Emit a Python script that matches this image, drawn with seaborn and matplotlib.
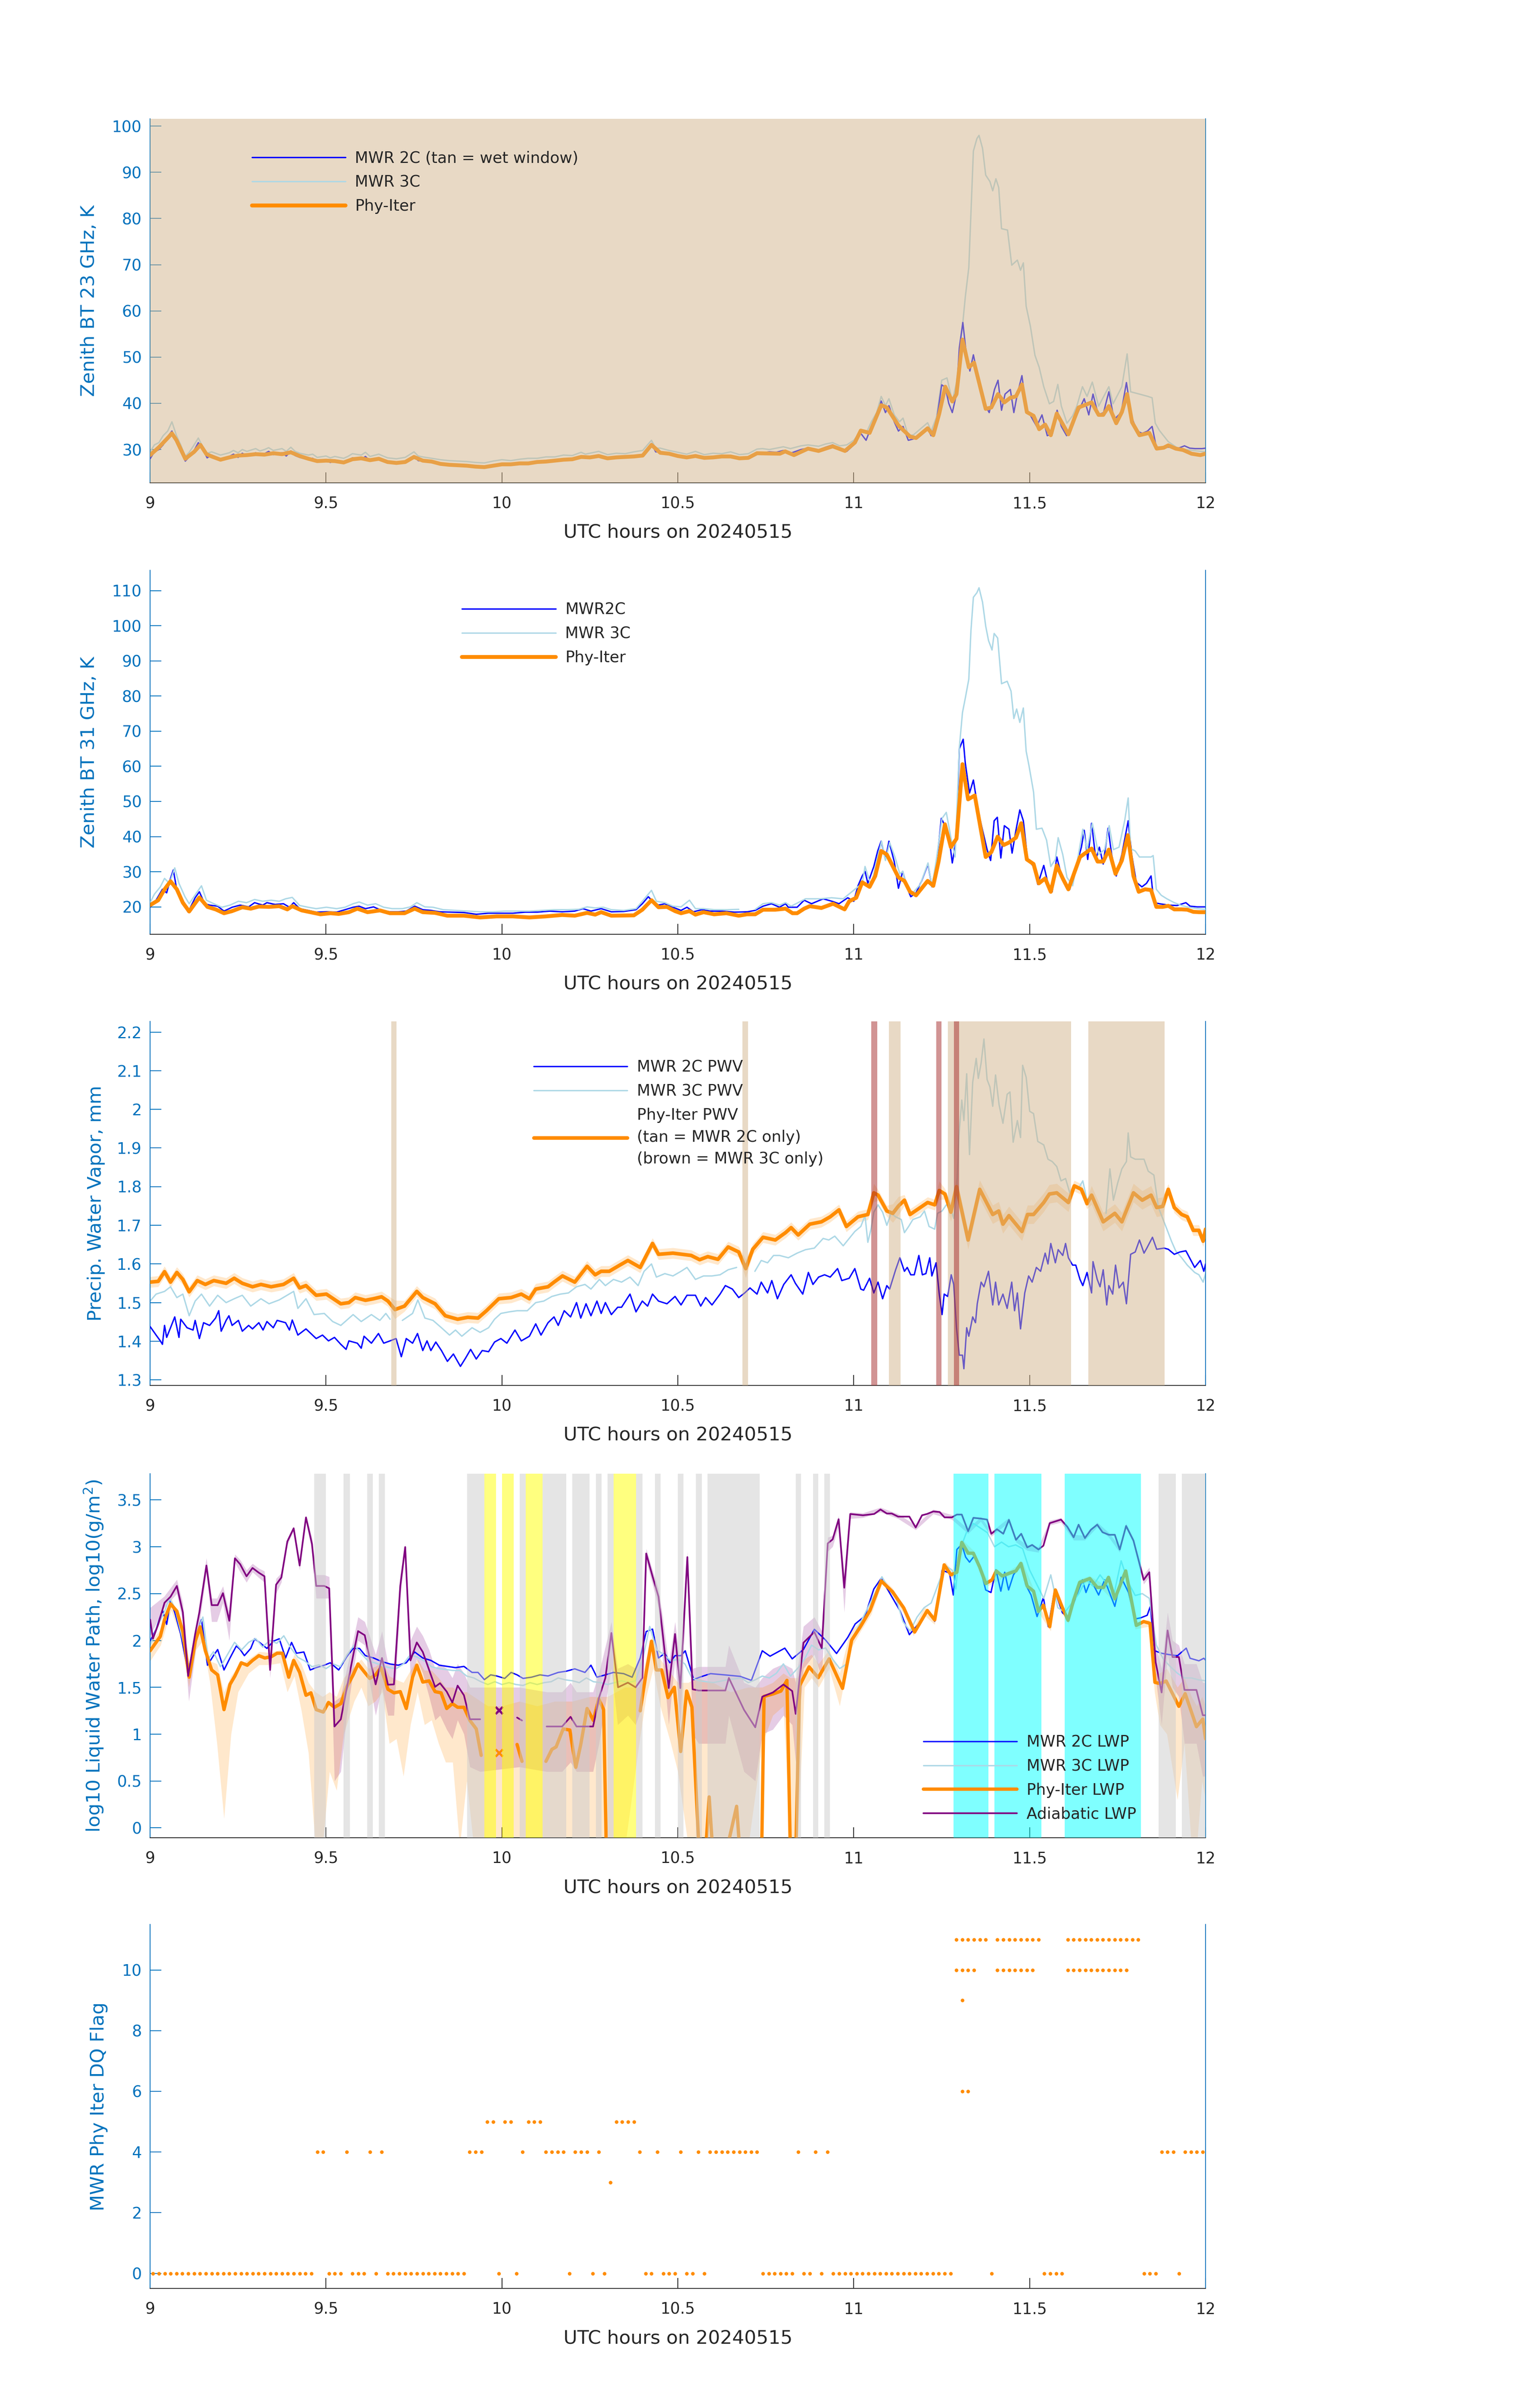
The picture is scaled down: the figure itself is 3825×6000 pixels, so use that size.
import numpy as np
import pandas as pd
import matplotlib
matplotlib.use("Agg")
import matplotlib.pyplot as plt
from matplotlib.lines import Line2D
from matplotlib.ticker import FuncFormatter
import seaborn as sns

nan = np.nan

# ---------------- panel 1: 23 GHz zenith BT (hour, K) ----------------
bt23_phy = [(9.0, 28.8), (9.025, 30.5), (9.05, 32.5), (9.062, 33.5), (9.075, 32), (9.1, 28), (9.125, 29.5),
            (9.143, 31), (9.16, 29), (9.175, 28.5), (9.2, 27.8), (9.225, 28.3), (9.25, 28.7), (9.275, 28.8),
            (9.3, 29), (9.325, 28.9), (9.35, 29.2), (9.375, 29), (9.4, 29.4), (9.425, 28.6), (9.45, 28),
            (9.475, 27.5), (9.5, 27.6), (9.525, 27.5), (9.55, 27.2), (9.575, 27.9), (9.6, 28.1), (9.625, 27.7),
            (9.65, 28), (9.675, 27.3), (9.7, 27.1), (9.725, 27.3), (9.75, 28.4), (9.775, 27.6), (9.8, 27.4),
            (9.825, 26.9), (9.85, 26.7), (9.875, 26.6), (9.9, 26.5), (9.925, 26.3), (9.95, 26.2), (9.975, 26.5),
            (10.0, 26.8), (10.025, 26.8), (10.05, 27), (10.075, 27), (10.1, 27.3), (10.125, 27.4), (10.15, 27.6),
            (10.175, 27.8), (10.2, 27.9), (10.225, 28.4), (10.25, 28.3), (10.275, 28.6), (10.3, 28.1),
            (10.325, 28.3), (10.35, 28.4), (10.375, 28.5), (10.4, 28.7), (10.425, 31), (10.45, 29.3),
            (10.475, 29.1), (10.5, 28.6), (10.525, 28.3), (10.55, 28.6), (10.575, 28.2), (10.6, 28.3),
            (10.625, 28.5), (10.65, 28.5), (10.675, 28.1), (10.7, 28.2), (10.725, 29.2), (10.79, 29.1),
            (10.805, 29.6), (10.83, 28.8), (10.87, 30.2), (10.9, 29.7), (10.94, 30.7), (10.975, 29.7),
            (11.003, 31.5), (11.02, 34.1), (11.045, 33.6), (11.078, 39.6), (11.094, 39.1), (11.127, 35.2),
            (11.16, 32.8), (11.177, 32.5), (11.21, 34.6), (11.226, 33.1), (11.243, 37.8), (11.26, 43.6),
            (11.28, 40.4), (11.292, 42), (11.309, 53.8), (11.327, 47.8), (11.342, 48.8), (11.375, 38.8),
            (11.391, 39.1), (11.41, 42), (11.428, 40.2), (11.445, 41.2), (11.461, 41.5), (11.478, 44.1),
            (11.492, 38.1), (11.511, 37.3), (11.527, 34.4), (11.544, 35.4), (11.56, 33.1), (11.577, 37.8),
            (11.61, 33.3), (11.639, 39.1), (11.676, 40.2), (11.696, 37.5), (11.709, 37.5), (11.725, 39.4),
            (11.746, 35.7), (11.762, 38.1), (11.777, 42), (11.791, 35.9), (11.812, 33.1), (11.84, 33.6),
            (11.861, 30.2), (11.881, 30.4), (11.894, 30.9), (11.915, 30.2), (11.936, 29.9), (11.96, 29.1),
            (11.985, 28.8), (12.0, 29.1)]

bt23_2c = [(9.0, 28), (9.012, 29.5), (9.025, 30), (9.037, 31), (9.05, 32.8), (9.062, 34), (9.075, 31.5),
           (9.087, 29.5), (9.1, 27.5), (9.112, 28.5), (9.125, 29.8), (9.137, 31.5), (9.15, 30), (9.162, 28.2),
           (9.175, 28.8), (9.2, 28), (9.225, 28.5), (9.237, 29), (9.25, 28.3), (9.262, 29.2), (9.275, 28.6),
           (9.3, 29.3), (9.312, 28.7), (9.325, 29.1), (9.337, 29.6), (9.35, 28.9), (9.375, 29.3), (9.387, 28.6),
           (9.4, 29.7), (9.412, 28.7), (9.425, 28.3), (9.45, 27.8), (9.462, 28.1), (9.475, 27.3), (9.5, 27.7),
           (9.512, 27.2), (9.525, 27.6), (9.55, 27.1), (9.562, 27.5), (9.575, 28.2), (9.6, 27.8), (9.612, 28.5),
           (9.625, 27.5), (9.65, 28.2), (9.662, 27.6), (9.675, 27.2), (9.7, 27), (9.725, 27.4), (9.75, 28.6),
           (9.762, 27.6), (9.775, 27.5), (9.8, 27.2), (9.825, 26.8), (9.85, 26.6), (9.875, 26.5), (9.9, 26.4),
           (9.925, 26.2), (9.95, 26.1), (9.975, 26.6), (10.0, 26.9), (10.025, 26.7), (10.05, 27), (10.075, 27.2),
           (10.1, 27.2), (10.125, 27.5), (10.15, 27.5), (10.175, 27.9), (10.2, 27.8), (10.225, 28.6),
           (10.237, 28.1), (10.25, 28.4), (10.275, 28.8), (10.3, 28), (10.325, 28.4), (10.35, 28.3),
           (10.375, 28.7), (10.4, 28.9), (10.425, 31.3), (10.437, 29.5), (10.45, 29.5), (10.475, 29),
           (10.5, 28.5), (10.525, 28.2), (10.55, 28.8), (10.575, 28), (10.6, 28.4), (10.625, 28.3),
           (10.65, 28.7), (10.675, 28), (10.7, 28.3), (10.725, 29.3), (10.74, 29.3), (10.76, 29.5),
           (10.78, 29.4), (10.8, 29.8), (10.82, 29.2), (10.85, 30), (10.87, 30.3), (10.9, 29.9), (10.92, 30.5),
           (10.94, 31), (10.96, 30.2), (10.98, 29.6), (11.0, 31), (11.02, 33.5), (11.035, 32), (11.05, 35),
           (11.065, 37), (11.078, 40.5), (11.09, 38), (11.1, 39.5), (11.115, 36), (11.127, 34), (11.14, 35),
           (11.155, 32), (11.17, 32.3), (11.19, 33.5), (11.21, 34.5), (11.22, 33), (11.235, 36), (11.25, 44),
           (11.26, 43.5), (11.27, 40), (11.28, 38), (11.292, 42), (11.3, 52), (11.31, 57.5), (11.318, 52),
           (11.33, 47), (11.34, 50.5), (11.355, 45), (11.37, 40), (11.385, 38), (11.4, 43), (11.41, 45),
           (11.42, 38.5), (11.43, 42), (11.445, 43), (11.455, 38), (11.465, 42), (11.478, 46), (11.49, 39),
           (11.505, 37), (11.52, 35), (11.535, 37.5), (11.55, 33), (11.565, 33.5), (11.578, 38.5), (11.59, 35),
           (11.605, 33), (11.62, 35), (11.64, 38.5), (11.655, 41), (11.668, 37.5), (11.68, 42), (11.695, 37.5),
           (11.71, 38), (11.725, 42.5), (11.74, 36.5), (11.76, 38), (11.775, 44.5), (11.79, 37), (11.805, 34),
           (11.82, 33.5), (11.835, 34), (11.848, 35), (11.86, 30.5), (11.88, 30.5), (11.9, 30.5), (11.92, 30.2),
           (11.94, 30.8), (11.955, 30.3), (11.97, 30.2), (11.99, 30.2), (12.0, 30.3)]

bt23_3c = [(9.0, 29.5), (9.012, 31), (9.025, 31.5), (9.037, 33), (9.05, 34), (9.062, 36), (9.075, 33),
           (9.087, 31), (9.1, 28.5), (9.112, 29.5), (9.125, 31), (9.137, 32.5), (9.15, 30.5), (9.162, 29.2),
           (9.175, 29.5), (9.2, 28.8), (9.225, 29.3), (9.237, 29.8), (9.25, 29.3), (9.262, 30), (9.275, 29.6),
           (9.3, 30.2), (9.312, 29.7), (9.325, 30), (9.337, 30.4), (9.35, 29.8), (9.375, 30.2), (9.387, 29.6),
           (9.4, 30.5), (9.412, 29.6), (9.425, 29.2), (9.45, 28.8), (9.462, 29), (9.475, 28.3), (9.5, 28.6),
           (9.512, 28.2), (9.525, 28.5), (9.55, 28.1), (9.562, 28.5), (9.575, 29.1), (9.6, 28.8), (9.612, 29.4),
           (9.625, 28.5), (9.65, 29), (9.662, 28.6), (9.675, 28.2), (9.7, 28), (9.725, 28.3), (9.75, 29.5),
           (9.762, 28.6), (9.775, 28.4), (9.8, 28.1), (9.825, 27.8), (9.85, 27.6), (9.875, 27.5), (9.9, 27.4),
           (9.925, 27.2), (9.95, 27.1), (9.975, 27.5), (10.0, 27.8), (10.025, 27.6), (10.05, 27.9),
           (10.075, 28.1), (10.1, 28.1), (10.125, 28.4), (10.15, 28.4), (10.175, 28.8), (10.2, 28.7),
           (10.225, 29.4), (10.237, 29), (10.25, 29.2), (10.275, 29.6), (10.3, 28.9), (10.325, 29.2),
           (10.35, 29.1), (10.375, 29.5), (10.4, 29.8), (10.425, 32), (10.437, 30.3), (10.45, 30.3),
           (10.475, 29.8), (10.5, 29.4), (10.525, 29), (10.55, 29.6), (10.575, 28.9), (10.6, 29.2),
           (10.625, 29.1), (10.65, 29.5), (10.675, 28.9), (10.7, 29.1), (10.725, 30.1), (10.74, 30.2),
           (10.76, 30), (10.78, 30.3), (10.8, 30.6), (10.82, 30.2), (10.85, 30.8), (10.87, 31), (10.9, 30.7),
           (10.92, 31.2), (10.94, 31.5), (10.96, 30.8), (10.98, 31), (11.0, 32), (11.02, 34), (11.035, 33.5),
           (11.05, 36), (11.065, 38), (11.078, 41.5), (11.09, 39.5), (11.1, 41), (11.115, 37.5), (11.13, 36),
           (11.14, 36.8), (11.155, 33), (11.17, 33.2), (11.19, 34.5), (11.21, 35.8), (11.22, 34), (11.235, 37),
           (11.25, 45), (11.265, 45.5), (11.28, 40.5), (11.292, 44.5), (11.309, 56.7), (11.317, 63),
           (11.327, 69.4), (11.333, 81), (11.34, 94.6), (11.35, 97.3), (11.356, 98), (11.366, 95.2),
           (11.375, 89.4), (11.387, 88), (11.395, 86), (11.404, 88.6), (11.412, 86.7), (11.42, 77.8),
           (11.437, 77.5), (11.449, 69.9), (11.465, 71), (11.474, 68.8), (11.482, 70.4), (11.49, 61),
           (11.502, 56.7), (11.515, 50.4), (11.527, 47.8), (11.54, 43.6), (11.556, 39.9), (11.568, 40.4),
           (11.58, 44.1), (11.59, 39.4), (11.606, 35.7), (11.622, 37.3), (11.634, 39.4), (11.65, 43.6),
           (11.663, 41.5), (11.678, 44.6), (11.696, 39.4), (11.725, 43.6), (11.737, 39.9), (11.762, 43.6),
           (11.777, 50.7), (11.787, 42.5), (11.812, 42), (11.836, 41.5), (11.848, 41.2), (11.857, 35.7),
           (11.869, 34.1), (11.894, 31.7), (11.919, 30.4), (11.952, 29.9), (12.0, 29.5)]

wet_window = [(9.0, 12.0)]

# ---------------- panel 2: 31 GHz zenith BT (hour, K) ----------------
bt31_phy = [(9.0, 20.5), (9.023, 21.9), (9.041, 25), (9.058, 27.3), (9.076, 25), (9.093, 21.2), (9.111, 18.7),
            (9.14, 22.7), (9.163, 20), (9.186, 19.3), (9.21, 18.2), (9.233, 18.8), (9.262, 19.9), (9.286, 19.5),
            (9.309, 20.1), (9.338, 20), (9.367, 20.2), (9.39, 19.3), (9.404, 20.2), (9.431, 19), (9.46, 18.4),
            (9.484, 17.9), (9.513, 18.2), (9.536, 18), (9.565, 18.5), (9.589, 19.5), (9.618, 18.5), (9.653, 19),
            (9.682, 18.2), (9.723, 18.2), (9.752, 19.5), (9.775, 18.5), (9.81, 18.3), (9.845, 17.5),
            (9.892, 17.5), (9.938, 17), (9.985, 17.3), (10.031, 17.3), (10.078, 17), (10.125, 17.3),
            (10.171, 17.7), (10.207, 17.5), (10.242, 18.3), (10.265, 17.8), (10.282, 18.5), (10.311, 17.5),
            (10.375, 17.6), (10.399, 19.2), (10.425, 21.9), (10.445, 19.9), (10.469, 20), (10.492, 18.8),
            (10.509, 18.2), (10.533, 18.8), (10.55, 17.8), (10.573, 18.5), (10.603, 17.9), (10.638, 18.2),
            (10.673, 17.5), (10.697, 17.9), (10.72, 17.9), (10.742, 19.2), (10.777, 19.2), (10.806, 19.5),
            (10.826, 18.2), (10.839, 18.2), (10.859, 19.5), (10.875, 20.2), (10.908, 19.7), (10.941, 20.9),
            (10.974, 19.3), (10.987, 21.6), (11.007, 22.6), (11.024, 27), (11.045, 25.7), (11.061, 28.8),
            (11.078, 35.9), (11.094, 34.9), (11.127, 28.4), (11.144, 27.4), (11.16, 24.3), (11.177, 23.3),
            (11.21, 27.4), (11.226, 26), (11.241, 32.9), (11.259, 43.5), (11.276, 37), (11.292, 39.4),
            (11.309, 60.6), (11.325, 50.6), (11.344, 51.7), (11.375, 34.2), (11.391, 35.6), (11.409, 40),
            (11.426, 37.6), (11.441, 38.3), (11.461, 39.7), (11.476, 43.8), (11.492, 33.5), (11.511, 32.2),
            (11.526, 26.7), (11.544, 28.1), (11.56, 24.3), (11.577, 31.8), (11.594, 28.1), (11.61, 25),
            (11.643, 34.2), (11.676, 36.6), (11.693, 32.9), (11.709, 32.9), (11.725, 36.3), (11.744, 29.4),
            (11.762, 33.2), (11.779, 40.4), (11.795, 28.8), (11.81, 24.3), (11.828, 25), (11.845, 24.8),
            (11.86, 20), (11.878, 20), (11.894, 20.3), (11.911, 19.3), (11.932, 19.3), (11.948, 19.2),
            (11.965, 18.6), (11.981, 18.5), (12.0, 18.5)]

bt31_2c = [(9.0, 19.9), (9.017, 21.9), (9.035, 25), (9.047, 24), (9.058, 28.1), (9.066, 30.5), (9.076, 24.7),
           (9.093, 21.2), (9.108, 18.5), (9.128, 22.6), (9.14, 24.3), (9.155, 20.9), (9.169, 20.5),
           (9.192, 20.2), (9.21, 18.8), (9.233, 19.9), (9.256, 20.5), (9.28, 20), (9.297, 21.2), (9.32, 20.5),
           (9.332, 21.2), (9.355, 20.7), (9.379, 20.9), (9.396, 19.9), (9.408, 21.2), (9.425, 19.5),
           (9.449, 19), (9.472, 18.5), (9.501, 18.6), (9.53, 18.5), (9.554, 19.2), (9.577, 19.9),
           (9.594, 20.2), (9.612, 19.5), (9.635, 20), (9.658, 19), (9.682, 18.6), (9.705, 18.6), (9.728, 18.8),
           (9.752, 20.2), (9.775, 19.2), (9.798, 19), (9.822, 18.6), (9.857, 18.5), (9.892, 18.4),
           (9.927, 17.9), (9.962, 18.2), (9.997, 18.2), (10.031, 18.2), (10.066, 18.5), (10.101, 18.5),
           (10.136, 18.8), (10.171, 18.6), (10.207, 18.8), (10.23, 19.5), (10.253, 18.8), (10.282, 19.5),
           (10.311, 18.6), (10.346, 18.7), (10.381, 19.2), (10.399, 20.9), (10.416, 22.9), (10.428, 21.6),
           (10.445, 20.5), (10.463, 20.9), (10.486, 19.9), (10.509, 19), (10.526, 19.9), (10.544, 18.6),
           (10.568, 19.2), (10.591, 18.8), (10.626, 18.8), (10.661, 18.5), (10.697, 18.6), (10.72, 19),
           (10.742, 20.2), (10.766, 20.9), (10.789, 19.9), (10.806, 20.9), (10.814, 19.9), (10.839, 19.9),
           (10.859, 21.9), (10.88, 20.9), (10.913, 22.3), (10.938, 21.6), (10.958, 20.9), (10.983, 22.6),
           (11.0, 21.6), (11.012, 26), (11.024, 28.8), (11.032, 30.1), (11.04, 26.7), (11.057, 31.5),
           (11.068, 35.9), (11.078, 38.7), (11.09, 33.5), (11.1, 38.7), (11.115, 32.9), (11.127, 25.3),
           (11.139, 30.1), (11.152, 25.3), (11.162, 22.9), (11.177, 24), (11.193, 27.4), (11.211, 32.2),
           (11.222, 25.7), (11.234, 30.8), (11.249, 45.2), (11.259, 43.1), (11.271, 39.7), (11.28, 32.5),
           (11.292, 39.7), (11.3, 65), (11.311, 67.7), (11.317, 60.9), (11.329, 52.4), (11.34, 56.1),
           (11.354, 47.2), (11.366, 41.8), (11.379, 36.3), (11.389, 33.2), (11.399, 44.5), (11.408, 45.5),
           (11.418, 33.9), (11.428, 43.1), (11.441, 42.1), (11.45, 35.3), (11.461, 41.8), (11.472, 47.6),
           (11.482, 44.5), (11.494, 33.5), (11.511, 31.5), (11.523, 26.4), (11.54, 31.8), (11.552, 26.7),
           (11.564, 24.3), (11.577, 34.2), (11.589, 29.4), (11.602, 26.7), (11.614, 25), (11.63, 30.8),
           (11.647, 37), (11.655, 41.8), (11.665, 33.5), (11.676, 43.8), (11.688, 33.5), (11.698, 37),
           (11.709, 32.2), (11.723, 42.4), (11.733, 34.9), (11.746, 28.8), (11.762, 34.9), (11.78, 44.5),
           (11.79, 34.9), (11.803, 27), (11.819, 25.7), (11.832, 26.7), (11.845, 28.8), (11.853, 21.2),
           (11.869, 20.9), (11.894, 20.5), (11.919, 20.4), (11.944, 21.2), (11.956, 20.2), (11.977, 20),
           (12.0, 20)]

bt31_3c = [(9.0, 21.2), (9.012, 23.6), (9.029, 25.7), (9.041, 28.1), (9.055, 26.7), (9.07, 31.1), (9.082, 26.7),
           (9.099, 22.9), (9.111, 20.9), (9.132, 24), (9.146, 26), (9.16, 21.9), (9.181, 20.9), (9.204, 19.9),
           (9.227, 20.5), (9.251, 21.6), (9.274, 21.2), (9.297, 22.1), (9.32, 21.6), (9.344, 21.9),
           (9.367, 21.6), (9.385, 22.3), (9.404, 22.7), (9.425, 20.4), (9.449, 19.9), (9.472, 19.5),
           (9.501, 19.9), (9.53, 19.5), (9.554, 19.9), (9.577, 20.9), (9.594, 21.4), (9.618, 20.5),
           (9.641, 20.9), (9.664, 19.9), (9.688, 19.5), (9.717, 19.5), (9.74, 20), (9.758, 21.2), (9.781, 20),
           (9.804, 19.9), (9.833, 19.2), (9.868, 19), (9.903, 18.8), (9.938, 18.6), (9.973, 18.6),
           (10.008, 18.8), (10.043, 18.8), (10.078, 18.8), (10.113, 19), (10.148, 19.2), (10.183, 19.2),
           (10.218, 19.3), (10.242, 20), (10.265, 19.7), (10.288, 19.9), (10.311, 19.2), (10.346, 19),
           (10.381, 19.5), (10.399, 21.6), (10.425, 24.7), (10.439, 21.6), (10.463, 21.2), (10.486, 20.2),
           (10.509, 20), (10.533, 21.9), (10.55, 19.5), (10.573, 19.5), (10.603, 19.2), (10.638, 19.2),
           (10.673, 19.3), (10.69, nan), (10.72, 19.3), (10.742, 20.9), (10.766, 21.2), (10.789, 20.5),
           (10.806, 21.2), (10.822, 20.2), (10.863, 22.3), (10.904, 22.3), (10.937, 22.6), (10.97, 22.3),
           (11.003, 25), (11.024, 26.7), (11.032, 31.5), (11.049, 26), (11.065, 32.9), (11.079, 38.7),
           (11.09, 33.2), (11.102, 38.3), (11.117, 34.2), (11.131, 29.4), (11.139, 30.1), (11.152, 25),
           (11.168, 24), (11.189, 26.4), (11.211, 32.5), (11.222, 25.7), (11.234, 32.9), (11.251, 45.2),
           (11.263, 46.9), (11.276, 39.7), (11.288, 34.2), (11.3, 65.3), (11.309, 75.3), (11.317, 79.4),
           (11.327, 84.8), (11.333, 98.5), (11.34, 108.1), (11.35, 109.4), (11.356, 110.8), (11.366, 106.7),
           (11.375, 99.9), (11.383, 95.8), (11.393, 93.1), (11.399, 97.8), (11.409, 96.5), (11.42, 83.5),
           (11.436, 84.2), (11.447, 81.4), (11.455, 73.6), (11.463, 76.3), (11.472, 72.5), (11.482, 76.6),
           (11.49, 64.3), (11.498, 60.2), (11.511, 52.7), (11.519, 42.1), (11.535, 42.4), (11.548, 39),
           (11.56, 31.5), (11.573, 33.5), (11.581, 39.7), (11.594, 34.9), (11.606, 28.4), (11.622, 26),
           (11.634, 32.2), (11.651, 42.1), (11.663, 36.3), (11.678, 43.8), (11.696, 34.9), (11.713, 36.3),
           (11.726, 43.1), (11.738, 36.3), (11.754, 37), (11.77, 44.5), (11.78, 51), (11.787, 36.6),
           (11.8, 35.9), (11.812, 34.2), (11.828, 34.2), (11.845, 34.2), (11.851, 34.6), (11.86, 25),
           (11.874, 23.3), (11.89, 22.3), (11.911, 21.2), (11.932, 20.4), (11.952, 19.9), (11.977, 19.5),
           (12.0, 19.3)]

# ---------------- panel 3: precipitable water vapour (hour, mm) ----------------
pwv_phy = [(9.0, 1.553), (9.023, 1.555), (9.041, 1.58), (9.058, 1.553), (9.076, 1.578), (9.093, 1.56),
           (9.111, 1.528), (9.134, 1.557), (9.157, 1.547), (9.181, 1.557), (9.216, 1.55), (9.239, 1.563),
           (9.262, 1.55), (9.291, 1.541), (9.315, 1.547), (9.344, 1.541), (9.379, 1.547), (9.408, 1.563),
           (9.425, 1.538), (9.443, 1.544), (9.472, 1.519), (9.501, 1.522), (9.542, 1.497), (9.565, 1.5),
           (9.583, 1.513), (9.612, 1.506), (9.635, 1.51), (9.658, 1.515), (9.676, 1.504), (9.696, 1.482),
           (9.723, 1.491), (9.758, 1.529), (9.775, 1.513), (9.81, 1.497), (9.839, 1.466), (9.874, 1.457),
           (9.903, 1.462), (9.932, 1.46), (9.956, 1.479), (9.991, 1.51), (10.026, 1.513), (10.055, 1.522),
           (10.078, 1.51), (10.096, 1.535), (10.131, 1.541), (10.148, 1.553), (10.172, 1.569), (10.207, 1.553),
           (10.242, 1.594), (10.265, 1.572), (10.282, 1.581), (10.305, 1.581), (10.335, 1.597), (10.358, 1.609),
           (10.393, 1.591), (10.428, 1.653), (10.445, 1.625), (10.486, 1.628), (10.538, 1.622), (10.562, 1.611),
           (10.585, 1.619), (10.614, 1.612), (10.643, 1.644), (10.673, 1.631), (10.693, 1.588), (10.713, 1.638),
           (10.742, 1.669), (10.777, 1.662), (10.806, 1.681), (10.822, 1.694), (10.842, 1.675), (10.875, 1.703),
           (10.908, 1.709), (10.933, 1.722), (10.958, 1.74), (10.979, 1.697), (11.012, 1.722), (11.04, 1.728),
           (11.057, 1.784), (11.069, 1.778), (11.094, 1.737), (11.111, 1.731), (11.127, 1.75), (11.144, 1.765),
           (11.16, 1.728), (11.189, 1.746), (11.21, 1.759), (11.23, 1.753), (11.243, 1.79), (11.259, 1.781),
           (11.276, 1.734), (11.292, 1.8), (11.325, 1.662), (11.358, 1.793), (11.395, 1.728), (11.412, 1.737),
           (11.424, 1.703), (11.441, 1.725), (11.478, 1.684), (11.494, 1.728), (11.511, 1.728), (11.54, 1.759),
           (11.556, 1.781), (11.577, 1.784), (11.61, 1.759), (11.627, 1.802), (11.647, 1.793), (11.663, 1.756),
           (11.676, 1.778), (11.709, 1.709), (11.742, 1.731), (11.762, 1.709), (11.795, 1.784), (11.82, 1.765),
           (11.845, 1.778), (11.861, 1.746), (11.878, 1.749), (11.894, 1.793), (11.911, 1.746), (11.932, 1.728),
           (11.948, 1.722), (11.965, 1.687), (11.981, 1.687), (11.993, 1.659), (12.0, 1.69)]
pwv_unc_quiet = 0.014
pwv_unc_window = 0.024

pwv_2c = [(9.0, 1.438), (9.017, 1.416), (9.029, 1.401), (9.035, 1.392), (9.041, 1.441), (9.047, 1.41),
          (9.058, 1.435), (9.07, 1.463), (9.082, 1.41), (9.087, 1.457), (9.105, 1.435), (9.122, 1.429),
          (9.128, 1.454), (9.14, 1.407), (9.152, 1.448), (9.169, 1.441), (9.186, 1.46), (9.195, 1.479),
          (9.202, 1.426), (9.216, 1.454), (9.224, 1.466), (9.233, 1.441), (9.251, 1.454), (9.262, 1.426),
          (9.28, 1.441), (9.291, 1.432), (9.309, 1.448), (9.321, 1.429), (9.332, 1.451), (9.35, 1.435),
          (9.361, 1.454), (9.385, 1.448), (9.396, 1.429), (9.404, 1.455), (9.42, 1.416), (9.443, 1.432),
          (9.472, 1.407), (9.49, 1.416), (9.507, 1.401), (9.524, 1.41), (9.542, 1.392), (9.557, 1.379),
          (9.565, 1.401), (9.589, 1.395), (9.6, 1.382), (9.608, 1.413), (9.629, 1.395), (9.649, 1.42),
          (9.664, 1.395), (9.682, 1.401), (9.699, 1.407), (9.714, 1.36), (9.728, 1.407), (9.746, 1.395),
          (9.76, 1.42), (9.775, 1.376), (9.787, 1.401), (9.798, 1.376), (9.812, 1.398), (9.828, 1.376),
          (9.845, 1.348), (9.862, 1.367), (9.882, 1.335), (9.897, 1.357), (9.911, 1.379), (9.927, 1.354),
          (9.944, 1.376), (9.962, 1.373), (9.979, 1.398), (9.997, 1.407), (10.014, 1.395), (10.037, 1.429),
          (10.055, 1.401), (10.078, 1.413), (10.096, 1.445), (10.111, 1.416), (10.131, 1.448), (10.148, 1.463),
          (10.16, 1.441), (10.177, 1.479), (10.195, 1.463), (10.212, 1.5), (10.224, 1.46), (10.239, 1.497),
          (10.253, 1.466), (10.27, 1.504), (10.282, 1.472), (10.294, 1.5), (10.311, 1.469), (10.329, 1.488),
          (10.34, 1.488), (10.364, 1.522), (10.381, 1.476), (10.399, 1.504), (10.414, 1.491), (10.428, 1.522),
          (10.445, 1.504), (10.469, 1.497), (10.492, 1.516), (10.509, 1.494), (10.526, 1.519), (10.55, 1.519),
          (10.565, 1.491), (10.579, 1.513), (10.597, 1.494), (10.62, 1.522), (10.635, 1.544), (10.655, 1.535),
          (10.673, 1.513), (10.69, 1.525), (10.705, 1.538), (10.725, 1.522), (10.737, 1.553), (10.755, 1.525),
          (10.767, 1.557), (10.783, 1.51), (10.801, 1.547), (10.822, 1.572), (10.834, 1.55), (10.855, 1.522),
          (10.871, 1.578), (10.884, 1.547), (10.9, 1.566), (10.917, 1.572), (10.933, 1.566), (10.954, 1.588),
          (10.966, 1.557), (10.987, 1.563), (11.003, 1.588), (11.02, 1.535), (11.028, 1.532), (11.045, 1.563),
          (11.057, 1.525), (11.069, 1.553), (11.082, 1.51), (11.094, 1.544), (11.102, 1.535), (11.119, 1.585),
          (11.131, 1.616), (11.144, 1.581), (11.152, 1.591), (11.162, 1.572), (11.172, 1.572), (11.185, 1.622),
          (11.195, 1.572), (11.205, 1.575), (11.216, 1.616), (11.222, 1.569), (11.234, 1.603), (11.243, 1.522),
          (11.251, 1.469), (11.257, 1.522), (11.267, 1.516), (11.277, 1.572), (11.284, 1.547), (11.292, 1.435),
          (11.3, 1.364), (11.309, 1.364), (11.313, 1.329), (11.321, 1.435), (11.327, 1.413), (11.338, 1.463),
          (11.346, 1.448), (11.351, 1.497), (11.362, 1.553), (11.37, 1.541), (11.383, 1.581), (11.395, 1.494),
          (11.403, 1.553), (11.412, 1.494), (11.424, 1.522), (11.436, 1.485), (11.449, 1.553), (11.457, 1.479),
          (11.465, 1.525), (11.474, 1.432), (11.486, 1.525), (11.497, 1.569), (11.507, 1.553), (11.519, 1.591),
          (11.531, 1.581), (11.544, 1.628), (11.552, 1.6), (11.56, 1.653), (11.573, 1.603), (11.581, 1.637),
          (11.594, 1.622), (11.602, 1.653), (11.61, 1.616), (11.622, 1.597), (11.631, 1.597), (11.643, 1.56),
          (11.651, 1.544), (11.663, 1.578), (11.676, 1.525), (11.68, 1.606), (11.692, 1.56), (11.7, 1.541),
          (11.709, 1.585), (11.719, 1.494), (11.725, 1.544), (11.736, 1.522), (11.744, 1.597), (11.754, 1.538),
          (11.766, 1.553), (11.775, 1.497), (11.787, 1.625), (11.8, 1.631), (11.812, 1.662), (11.825, 1.628),
          (11.833, 1.641), (11.849, 1.669), (11.861, 1.638), (11.882, 1.641), (11.894, 1.638), (11.911, 1.625),
          (11.927, 1.631), (11.944, 1.634), (11.969, 1.591), (11.985, 1.609), (11.995, 1.581), (12.0, 1.6)]

pwv_3c = [(9.0, 1.504), (9.017, 1.522), (9.041, 1.529), (9.058, 1.541), (9.076, 1.513), (9.093, 1.522),
          (9.111, 1.466), (9.128, 1.504), (9.146, 1.522), (9.169, 1.491), (9.192, 1.519), (9.216, 1.5),
          (9.239, 1.51), (9.262, 1.519), (9.286, 1.491), (9.315, 1.51), (9.338, 1.497), (9.367, 1.507),
          (9.408, 1.529), (9.42, 1.485), (9.443, 1.51), (9.466, 1.469), (9.495, 1.472), (9.519, 1.451),
          (9.542, 1.441), (9.577, 1.469), (9.6, 1.451), (9.629, 1.469), (9.653, 1.454), (9.67, 1.472),
          (9.682, 1.457), (9.695, nan), (9.717, 1.454), (9.746, 1.472), (9.761, 1.507), (9.781, 1.46),
          (9.804, 1.454), (9.828, 1.435), (9.851, 1.416), (9.868, 1.429), (9.886, 1.413), (9.915, 1.435),
          (9.938, 1.423), (9.962, 1.435), (9.979, 1.457), (9.997, 1.472), (10.02, 1.476), (10.043, 1.479),
          (10.072, 1.479), (10.096, 1.5), (10.119, 1.504), (10.142, 1.516), (10.166, 1.522), (10.189, 1.525),
          (10.212, 1.541), (10.236, 1.547), (10.253, 1.535), (10.277, 1.56), (10.294, 1.544), (10.317, 1.56),
          (10.34, 1.553), (10.364, 1.566), (10.387, 1.544), (10.404, 1.581), (10.425, 1.6), (10.439, 1.566),
          (10.463, 1.575), (10.486, 1.569), (10.509, 1.581), (10.526, 1.591), (10.55, 1.56), (10.573, 1.569),
          (10.597, 1.569), (10.62, 1.572), (10.643, 1.585), (10.667, 1.591), (10.69, nan), (10.719, 1.581),
          (10.737, 1.609), (10.755, 1.603), (10.772, 1.622), (10.789, 1.622), (10.814, 1.616), (10.839, 1.628),
          (10.863, 1.637), (10.888, 1.641), (10.913, 1.666), (10.929, 1.662), (10.946, 1.672), (10.97, 1.647),
          (10.987, 1.666), (11.003, 1.684), (11.02, 1.697), (11.032, 1.725), (11.04, 1.656), (11.049, 1.69),
          (11.057, 1.734), (11.069, 1.753), (11.082, 1.734), (11.094, 1.7), (11.106, 1.731), (11.119, 1.722),
          (11.135, 1.715), (11.144, 1.681), (11.156, 1.697), (11.168, 1.715), (11.189, 1.722), (11.201, 1.737),
          (11.214, 1.697), (11.23, 1.69), (11.238, 1.731), (11.251, 1.737), (11.263, 1.753), (11.276, 1.743),
          (11.284, 1.718), (11.292, 1.771), (11.299, 1.933), (11.307, 2.024), (11.313, 1.971), (11.321, 2.092),
          (11.329, 1.883), (11.338, 2.07), (11.348, 2.132), (11.354, 2.08), (11.362, 2.12), (11.37, 2.182),
          (11.379, 2.077), (11.387, 2.058), (11.395, 2.008), (11.403, 2.089), (11.413, 2.012), (11.424, 1.964),
          (11.436, 2.039), (11.444, 2.045), (11.453, 1.915), (11.465, 1.971), (11.474, 1.927), (11.48, 2.114),
          (11.49, 2.083), (11.5, 1.995), (11.511, 1.989), (11.523, 1.917), (11.54, 1.908), (11.552, 1.871),
          (11.564, 1.865), (11.577, 1.852), (11.589, 1.815), (11.602, 1.821), (11.614, 1.784), (11.627, 1.802),
          (11.639, 1.796), (11.651, 1.815), (11.663, 1.765), (11.69, nan), (11.717, 1.731), (11.728, 1.846),
          (11.738, 1.765), (11.75, 1.809), (11.762, 1.846), (11.775, 1.865), (11.78, 1.939), (11.787, 1.877),
          (11.8, 1.871), (11.812, 1.871), (11.825, 1.871), (11.837, 1.84), (11.853, 1.83), (11.866, 1.746),
          (11.878, 1.718), (11.89, 1.69), (11.903, 1.659), (11.915, 1.634), (11.932, 1.616), (11.948, 1.597),
          (11.969, 1.578), (11.981, 1.572), (11.993, 1.553), (12.0, 1.575)]

pwv_tan = [(9.686, 9.70), (10.684, 10.70), (11.10, 11.133), (11.267, 11.618), (11.667, 11.884)]
pwv_brown = [(11.05, 11.067), (11.234, 11.249), (11.285, 11.30)]

# ---------------- panel 4: log10 liquid water path ----------------
lwp_2c = [(9.0, 1.992), (9.017, 2.12), (9.035, 2.326), (9.047, 2.172), (9.058, 2.428), (9.07, 2.3), (9.087, 2.069),
          (9.108, 1.659), (9.128, 2.018), (9.146, 2.223), (9.163, 1.736), (9.18, 1.838), (9.192, 1.903),
          (9.21, 1.685), (9.227, 1.813), (9.245, 1.941), (9.256, 1.903), (9.268, 1.838), (9.286, 1.915),
          (9.297, 2.018), (9.315, 1.967), (9.332, 1.915), (9.35, 1.992), (9.367, 2.018), (9.385, 1.813),
          (9.402, 1.979), (9.416, 1.864), (9.437, 1.877), (9.455, 1.685), (9.472, 1.71), (9.495, 1.736),
          (9.512, 1.762), (9.536, 1.685), (9.559, 1.826), (9.577, 1.915), (9.595, 1.915), (9.612, 1.838),
          (9.635, 1.813), (9.659, 1.774), (9.682, 1.749), (9.705, 1.736), (9.728, 1.762), (9.752, 1.877),
          (9.775, 1.813), (9.798, 1.787), (9.822, 1.736), (9.845, 1.723), (9.868, 1.71), (9.892, 1.723),
          (9.915, 1.659), (9.932, 1.659), (9.95, 1.582), (9.968, 1.633), (9.985, 1.621), (10.008, 1.595),
          (10.026, 1.659), (10.043, 1.633), (10.06, 1.595), (10.084, 1.608), (10.108, 1.633), (10.131, 1.621),
          (10.16, 1.659), (10.183, 1.672), (10.207, 1.697), (10.236, 1.659), (10.253, 1.736), (10.27, 1.608),
          (10.294, 1.633), (10.317, 1.659), (10.346, 1.646), (10.37, 1.608), (10.393, 1.813), (10.41, 2.095),
          (10.428, 2.121), (10.445, 1.813), (10.463, 1.864), (10.477, 1.762), (10.492, 1.838), (10.509, 1.838),
          (10.521, 1.89), (10.545, 1.582), (10.562, 1.608), (10.593, 1.646), (10.635, 1.632), (10.677, 1.617),
          (10.709, 1.574), (10.74, 1.89), (10.762, 1.832), (10.804, 1.918), (10.825, 1.804), (10.857, 1.904),
          (10.888, 2.119), (10.92, 2.004), (10.951, 1.861), (10.983, 2.033), (11.004, 2.176), (11.032, 2.262),
          (11.057, 2.549), (11.078, 2.663), (11.1, 2.52), (11.131, 2.32), (11.158, 2.062), (11.184, 2.176),
          (11.209, 2.32), (11.23, 2.205), (11.251, 2.749), (11.272, 2.721), (11.283, 2.485), (11.293, 2.971),
          (11.307, 3.025), (11.318, 2.89), (11.329, 2.836), (11.343, 2.904), (11.358, 2.796), (11.375, 2.539),
          (11.39, 2.512), (11.404, 2.755), (11.418, 2.526), (11.429, 2.728), (11.44, 2.539), (11.454, 2.701),
          (11.464, 2.755), (11.475, 2.796), (11.489, 2.593), (11.504, 2.485), (11.521, 2.255), (11.539, 2.458),
          (11.553, 2.147), (11.571, 2.539), (11.593, 2.296), (11.61, 2.242), (11.631, 2.458), (11.65, 2.647),
          (11.66, 2.512), (11.674, 2.647), (11.696, 2.485), (11.713, 2.647), (11.742, 2.364), (11.76, 2.674),
          (11.781, 2.512), (11.799, 2.229), (11.816, 2.242), (11.834, 2.269), (11.843, 2.364), (11.855, 1.891),
          (11.874, 1.864), (11.895, 1.85), (11.92, 1.837), (11.945, 1.918), (11.956, 1.81), (11.981, 1.783),
          (11.995, 1.81), (12.0, 1.79)]

lwp_3c = [(9.0, 1.95), (9.02, 2.15), (9.04, 2.3), (9.055, 2.45), (9.07, 2.35), (9.09, 2.05), (9.11, 1.7),
          (9.13, 2.05), (9.15, 2.25), (9.165, 1.8), (9.18, 1.88), (9.2, 1.72), (9.22, 1.85), (9.24, 1.98),
          (9.26, 1.9), (9.28, 1.98), (9.3, 2.02), (9.32, 1.93), (9.34, 2.0), (9.36, 1.97), (9.38, 2.05),
          (9.4, 1.92), (9.42, 1.82), (9.44, 1.78), (9.46, 1.72), (9.48, 1.74), (9.5, 1.7), (9.52, 1.75),
          (9.54, 1.72), (9.56, 1.85), (9.58, 1.95), (9.6, 1.86), (9.62, 1.78), (9.64, 1.76), (9.66, 1.73),
          (9.68, 1.71), (9.7, 1.7), (9.72, 1.75), (9.74, 1.85), (9.76, 1.82), (9.78, 1.78), (9.8, 1.72),
          (9.82, 1.7), (9.84, 1.69), (9.86, 1.68), (9.88, 1.68), (9.9, 1.62), (9.92, 1.6), (9.94, 1.56),
          (9.96, 1.53), (9.98, 1.56), (10.0, 1.53), (10.02, 1.55), (10.04, 1.53), (10.06, 1.52), (10.08, 1.55),
          (10.1, 1.53), (10.12, 1.55), (10.14, 1.56), (10.16, 1.6), (10.18, 1.58), (10.2, 1.57), (10.22, 1.55),
          (10.24, 1.6), (10.26, 1.56), (10.28, 1.55), (10.3, 1.53), (10.32, 1.55), (10.34, 1.57), (10.36, 1.55),
          (10.38, 1.57), (10.4, 1.8), (10.42, 2.15), (10.44, 1.9), (10.46, 1.85), (10.48, 1.78), (10.5, 1.8),
          (10.52, 1.75), (10.54, 1.6), (10.56, 1.57), (10.6, 1.55), (10.64, 1.58), (10.68, 1.6), (10.7, 1.55),
          (10.72, 1.58), (10.74, 1.62), (10.76, 1.6), (10.78, 1.65), (10.8, 1.75), (10.82, 1.62), (10.84, 1.7),
          (10.86, 1.8), (10.88, 1.95), (10.9, 1.9), (10.92, 1.92), (10.94, 1.8), (10.96, 1.7), (10.98, 1.75),
          (11.0, 2.05), (11.02, 2.2), (11.04, 2.35), (11.06, 2.5), (11.08, 2.68), (11.1, 2.55), (11.12, 2.45),
          (11.14, 2.2), (11.16, 2.1), (11.18, 2.25), (11.2, 2.35), (11.22, 2.4), (11.24, 2.6), (11.26, 2.8),
          (11.28, 2.75), (11.29, 2.55), (11.3, 2.95), (11.32, 3.15), (11.34, 3.25), (11.36, 3.2), (11.38, 3.15),
          (11.4, 3.0), (11.42, 3.05), (11.44, 3.0), (11.46, 3.02), (11.48, 2.98), (11.5, 2.75), (11.52, 2.6),
          (11.54, 2.45), (11.56, 2.7), (11.58, 2.35), (11.6, 2.3), (11.62, 2.4), (11.64, 2.5), (11.66, 2.65),
          (11.68, 2.58), (11.7, 2.7), (11.72, 2.6), (11.74, 2.5), (11.76, 2.85), (11.78, 2.62), (11.8, 2.48),
          (11.82, 2.5), (11.84, 2.45), (11.86, 1.95), (11.88, 1.8), (11.9, 1.72), (11.92, 1.65), (11.94, 1.6),
          (11.96, 1.6), (11.98, 1.58), (12.0, 1.57)]

lwp_phy = [(9.0, 1.89), (9.012, 1.954), (9.029, 2.044), (9.041, 2.223), (9.058, 2.39), (9.076, 2.313),
           (9.093, 2.095), (9.111, 1.608), (9.128, 1.992), (9.142, 2.146), (9.157, 1.89), (9.175, 1.685),
           (9.192, 1.633), (9.21, 1.262), (9.227, 1.531), (9.241, 1.621), (9.259, 1.762), (9.276, 1.736),
           (9.291, 1.787), (9.309, 1.838), (9.326, 1.813), (9.344, 1.826), (9.361, 1.864), (9.376, 1.864),
           (9.394, 1.608), (9.408, 1.787), (9.425, 1.659), (9.443, 1.415), (9.457, 1.441), (9.472, 1.262),
           (9.492, 1.236), (9.507, 1.338), (9.524, 1.287), (9.542, 1.326), (9.559, 1.505), (9.577, 1.633),
           (9.591, 1.749), (9.61, 1.659), (9.624, 1.595), (9.641, 1.633), (9.656, 1.71), (9.676, 1.479),
           (9.693, 1.441), (9.711, 1.454), (9.728, 1.274), (9.746, 1.608), (9.758, 1.736), (9.775, 1.556),
           (9.793, 1.569), (9.81, 1.454), (9.827, 1.441), (9.843, 1.274), (9.859, 1.326), (9.874, 1.287),
           (9.892, 1.287), (9.909, 1.146), (9.927, 1.056), (9.941, 0.774), (9.95, nan), (10.043, 0.89),
           (10.057, 0.71), (10.07, nan), (10.125, 0.71), (10.142, 0.838), (10.154, 0.864), (10.174, 1.056),
           (10.193, 1.044), (10.21, 0.646), (10.224, 0.89), (10.242, 1.274), (10.26, 1.146), (10.275, 1.377),
           (10.289, 1.262), (10.297, -0.3), (10.3, nan), (10.393, 1.249), (10.41, 1.659), (10.425, 1.992),
           (10.439, 1.685), (10.454, 1.685), (10.472, 1.39), (10.49, 1.5), (10.508, 0.815), (10.525, 1.46),
           (10.54, 1.288), (10.561, -0.3), (10.578, -0.3), (10.589, 0.33), (10.6, -0.3), (10.635, -0.3),
           (10.667, 0.23), (10.677, -0.3), (10.738, -0.3), (10.745, 1.403), (10.772, 1.431), (10.793, 1.46),
           (10.81, 1.574), (10.82, -0.3), (10.835, -0.3), (10.846, 1.517), (10.873, 1.718), (10.899, 1.603),
           (10.93, 1.804), (10.968, 1.489), (10.994, 2.004), (11.019, 2.148), (11.046, 2.32), (11.078, 2.635),
           (11.11, 2.52), (11.142, 2.348), (11.173, 2.09), (11.209, 2.32), (11.23, 2.219), (11.257, 2.807),
           (11.276, 2.701), (11.293, 2.728), (11.307, 3.047), (11.325, 2.931), (11.34, 2.931), (11.358, 2.782),
           (11.375, 2.607), (11.393, 2.647), (11.405, 2.742), (11.422, 2.688), (11.44, 2.715), (11.461, 2.742),
           (11.475, 2.823), (11.493, 2.58), (11.511, 2.526), (11.525, 2.31), (11.539, 2.377), (11.557, 2.147),
           (11.573, 2.539), (11.593, 2.35), (11.609, 2.215), (11.625, 2.431), (11.642, 2.62), (11.671, 2.661),
           (11.692, 2.566), (11.71, 2.566), (11.724, 2.674), (11.742, 2.445), (11.773, 2.742), (11.803, 2.161),
           (11.824, 2.202), (11.842, 2.183), (11.856, 1.553), (11.87, 1.54), (11.888, 1.567), (11.924, 1.297),
           (11.942, 1.432), (11.974, 1.08), (11.992, 1.161), (12.0, 0.95)]

lwp_phy_band = [(9.0, 1.78, 1.97), (9.03, 1.95, 2.12), (9.06, 2.32, 2.45), (9.09, 2.0, 2.17), (9.11, 1.5, 1.7),
                (9.13, 1.9, 2.07), (9.15, 2.0, 2.2), (9.17, 1.55, 1.78), (9.19, 0.9, 1.75), (9.21, 0.1, 1.45),
                (9.23, 1.0, 1.62), (9.25, 1.45, 1.72), (9.28, 1.65, 1.8), (9.31, 1.74, 1.88), (9.34, 1.74, 1.87),
                (9.37, 1.76, 1.9), (9.39, 1.45, 1.68), (9.41, 1.62, 1.85), (9.43, 1.25, 1.75), (9.45, 0.8, 1.55),
                (9.47, -0.2, 1.45), (9.49, -0.2, 1.4), (9.51, 0.6, 1.45), (9.53, 0.4, 1.4), (9.55, 1.0, 1.6),
                (9.58, 1.35, 1.72), (9.6, 1.5, 1.8), (9.62, 1.3, 1.7), (9.64, 1.35, 1.72), (9.66, 1.45, 1.78),
                (9.68, 0.9, 1.62), (9.7, 0.95, 1.58), (9.72, 0.55, 1.55), (9.74, 1.1, 1.68), (9.76, 1.45, 1.8),
                (9.78, 1.1, 1.68), (9.8, 1.15, 1.68), (9.82, 0.9, 1.6), (9.84, 0.7, 1.5), (9.86, 0.7, 1.5),
                (9.88, -0.2, 1.45), (9.9, 0.5, 1.45), (9.92, -0.2, 1.4), (9.94, -0.2, 1.35), (9.96, -0.2, 1.3),
                (10.0, -0.2, 1.3), (10.05, -0.2, 1.35), (10.1, -0.2, 1.3), (10.15, -0.2, 1.35), (10.2, -0.2, 1.35),
                (10.25, -0.2, 1.4), (10.3, -0.2, 1.4), (10.35, -0.2, 1.5), (10.39, 0.9, 1.5), (10.41, 1.4, 1.8),
                (10.43, 1.7, 2.1), (10.45, 1.3, 1.8), (10.48, 0.9, 1.65), (10.5, 0.6, 1.55), (10.53, -0.2, 1.55),
                (10.55, -0.2, 1.6), (10.6, -0.2, 1.55), (10.65, -0.2, 1.45), (10.7, -0.2, 1.5), (10.74, 0.9, 1.5),
                (10.77, 1.2, 1.55), (10.8, 1.3, 1.65), (10.82, -0.2, 1.6), (10.84, -0.2, 1.6), (10.86, 1.5, 1.8),
                (10.88, 1.6, 1.85), (10.9, 1.5, 1.75), (10.93, 1.7, 1.9), (10.96, 1.3, 1.65), (10.99, 1.9, 2.1),
                (11.02, 2.1, 2.2), (11.05, 2.28, 2.36), (11.08, 2.6, 2.67), (11.11, 2.48, 2.56), (11.14, 2.3, 2.38),
                (11.17, 2.05, 2.13), (11.2, 2.27, 2.36), (11.23, 2.17, 2.26), (11.26, 2.77, 2.84),
                (11.28, 2.67, 2.74), (11.31, 3.02, 3.07), (11.34, 2.9, 2.96), (11.38, 2.58, 2.64),
                (11.4, 2.62, 2.68), (11.44, 2.69, 2.74), (11.48, 2.78, 2.84), (11.51, 2.49, 2.56),
                (11.53, 2.27, 2.34), (11.56, 2.1, 2.18), (11.57, 2.5, 2.57), (11.61, 2.18, 2.25),
                (11.64, 2.59, 2.65), (11.67, 2.63, 2.69), (11.71, 2.53, 2.6), (11.74, 2.41, 2.48),
                (11.77, 2.71, 2.77), (11.8, 2.12, 2.2), (11.84, 2.15, 2.22), (11.855, 1.45, 1.65),
                (11.87, 1.1, 1.65), (11.89, 1.0, 1.7), (11.92, 0.3, 1.5), (11.94, 0.9, 1.6), (11.96, -0.2, 1.4),
                (11.975, -0.2, 1.3), (11.99, 0.5, 1.4), (12.0, 0.3, 1.3)]

lwp_adi = [(9.0, 2.223), (9.008, 2.018), (9.023, 2.172), (9.041, 2.403), (9.058, 2.467), (9.076, 2.582),
           (9.093, 2.3), (9.108, 1.621), (9.128, 2.069), (9.14, 2.3), (9.16, 2.8), (9.175, 2.377), (9.192, 2.377),
           (9.207, 2.505), (9.225, 2.21), (9.241, 2.877), (9.256, 2.813), (9.274, 2.685), (9.291, 2.774),
           (9.309, 2.723), (9.325, 2.685), (9.341, 1.685), (9.358, 2.595), (9.373, 2.672), (9.39, 3.056),
           (9.408, 3.197), (9.425, 2.8), (9.443, 3.313), (9.46, 3.031), (9.472, 2.582), (9.495, 2.582),
           (9.509, 2.556), (9.524, 1.082), (9.542, 1.159), (9.559, 1.492), (9.577, 1.838), (9.591, 2.1),
           (9.61, 2.056), (9.624, 1.813), (9.641, 1.531), (9.659, 1.813), (9.676, 1.528), (9.693, 1.531),
           (9.711, 2.582), (9.725, 2.997), (9.74, 1.787), (9.758, 1.979), (9.775, 1.877), (9.793, 1.685),
           (9.81, 1.505), (9.824, 1.544), (9.843, 1.454), (9.859, 1.338), (9.874, 1.518), (9.892, 1.415),
           (9.909, 1.159), (9.938, 1.159), (9.945, nan), (10.043, 1.177), (10.057, 1.146), (10.07, nan),
           (10.127, 1.082), (10.171, 1.082), (10.195, 1.185), (10.212, 1.082), (10.259, 1.082), (10.276, 1.39),
           (10.294, 1.6), (10.311, 2.08), (10.33, 1.5), (10.358, 1.55), (10.38, 1.5), (10.399, 1.6),
           (10.41, 2.928), (10.428, 2.685), (10.445, 2.467), (10.457, 2.069), (10.474, 1.492), (10.492, 2.069),
           (10.507, 1.492), (10.527, 2.89), (10.542, 1.479), (10.559, 1.466), (10.635, 1.466), (10.645, 1.6),
           (10.688, 1.26), (10.72, 1.073), (10.74, 1.4), (10.77, 1.445), (10.8, 1.53), (10.825, 1.46),
           (10.835, 1.216), (10.857, 1.976), (10.888, 2.09), (10.909, 1.918), (10.926, 3.036), (10.94, 3.079),
           (10.957, 3.294), (10.973, 2.563), (10.99, 3.35), (11.026, 3.336), (11.058, 3.35), (11.076, 3.398),
           (11.094, 3.355), (11.108, 3.355), (11.126, 3.322), (11.158, 3.322), (11.176, 3.206), (11.194, 3.336),
           (11.208, 3.35), (11.226, 3.377), (11.244, 3.371), (11.258, 3.314), (11.279, 3.314), (11.293, 3.344),
           (11.307, 3.344), (11.325, 3.166), (11.34, 3.309), (11.361, 3.301), (11.379, 3.29), (11.391, 3.139),
           (11.407, 3.187), (11.425, 3.139), (11.441, 3.287), (11.461, 3.074), (11.476, 3.139), (11.493, 2.993),
           (11.507, 3.02), (11.525, 2.971), (11.539, 3.012), (11.557, 3.252), (11.589, 3.29), (11.607, 3.214),
           (11.625, 3.101), (11.639, 3.236), (11.657, 3.093), (11.674, 3.182), (11.692, 3.236), (11.707, 3.155),
           (11.725, 3.128), (11.742, 3.128), (11.756, 2.971), (11.774, 3.222), (11.795, 3.066), (11.824, 2.647),
           (11.84, 2.728), (11.858, 1.769), (11.875, 1.445), (11.892, 2.107), (11.906, 1.823), (11.924, 1.823),
           (11.94, 1.472), (11.974, 1.472), (11.992, 1.202), (12.0, 1.202)]

lwp_adi_band = [(9.0, 2.05, 2.35), (9.04, 2.35, 2.47), (9.076, 2.5, 2.65), (9.093, 2.2, 2.4), (9.11, 1.35, 1.75),
                (9.13, 1.9, 2.15), (9.16, 2.72, 2.88), (9.175, 2.2, 2.45), (9.19, 2.2, 2.45), (9.207, 2.4, 2.58),
                (9.225, 2.0, 2.3), (9.241, 2.83, 2.92), (9.256, 2.73, 2.86), (9.274, 2.62, 2.75),
                (9.291, 2.73, 2.82), (9.309, 2.67, 2.77), (9.325, 2.62, 2.74), (9.341, 1.6, 1.9),
                (9.358, 2.5, 2.66), (9.373, 2.62, 2.72), (9.39, 3.02, 3.09), (9.408, 3.17, 3.22),
                (9.425, 2.75, 2.85), (9.443, 3.29, 3.34), (9.46, 2.95, 3.1), (9.472, 2.45, 2.7),
                (9.495, 2.45, 2.7), (9.509, 2.45, 2.68), (9.524, 0.5, 1.35), (9.542, 0.6, 1.4), (9.559, 1.2, 1.7),
                (9.577, 1.65, 2.0), (9.591, 2.0, 2.25), (9.61, 1.95, 2.2), (9.624, 1.55, 2.05), (9.641, 1.2, 1.85),
                (9.659, 1.5, 2.1), (9.676, 1.2, 1.75), (9.693, 1.2, 1.75), (9.711, 2.45, 2.7), (9.725, 2.95, 3.03),
                (9.74, 1.6, 2.0), (9.758, 1.8, 2.15), (9.775, 1.65, 2.05), (9.793, 1.4, 1.9), (9.81, 1.15, 1.7),
                (9.824, 1.2, 1.75), (9.843, 1.05, 1.7), (9.859, 0.95, 1.6), (9.874, 1.15, 1.75),
                (9.892, 1.0, 1.65), (9.909, 0.65, 1.5), (9.938, 0.6, 1.5), (10.05, 0.65, 1.5),
                (10.127, 0.6, 1.45), (10.171, 0.6, 1.45), (10.195, 0.7, 1.55), (10.212, 0.6, 1.45),
                (10.259, 0.6, 1.45), (10.276, 0.9, 1.65), (10.311, 1.7, 2.2), (10.329, 1.1, 1.7),
                (10.358, 1.2, 1.75), (10.38, 1.1, 1.7), (10.399, 1.3, 1.85), (10.41, 2.85, 2.98),
                (10.428, 2.6, 2.75), (10.445, 2.35, 2.55), (10.457, 1.8, 2.25), (10.474, 1.1, 1.75),
                (10.492, 1.8, 2.2), (10.507, 1.1, 1.75), (10.527, 2.8, 2.95), (10.542, 1.0, 1.7),
                (10.559, 0.9, 1.72), (10.635, 0.9, 1.72), (10.645, 1.2, 1.95), (10.688, 0.6, 1.55),
                (10.72, 0.5, 1.5), (10.74, 1.0, 1.6), (10.77, 1.05, 1.7), (10.8, 1.2, 1.75), (10.825, 1.1, 1.7),
                (10.835, 0.7, 1.55), (10.857, 1.7, 2.15), (10.888, 1.85, 2.25), (10.909, 1.6, 2.1),
                (10.926, 2.95, 3.1), (10.94, 3.0, 3.12), (10.957, 3.22, 3.33), (10.973, 2.3, 2.7),
                (10.99, 3.3, 3.37), (11.026, 3.31, 3.36), (11.076, 3.37, 3.42), (11.126, 3.3, 3.35),
                (11.176, 3.18, 3.23), (11.226, 3.35, 3.4), (11.279, 3.29, 3.34), (11.325, 3.14, 3.19),
                (11.361, 3.27, 3.32), (11.391, 3.11, 3.16), (11.441, 3.26, 3.31), (11.461, 3.05, 3.1),
                (11.493, 2.96, 3.02), (11.525, 2.94, 3.0), (11.557, 3.23, 3.28), (11.589, 3.26, 3.31),
                (11.625, 3.07, 3.13), (11.657, 3.07, 3.12), (11.692, 3.21, 3.26), (11.725, 3.1, 3.15),
                (11.756, 2.94, 3.0), (11.774, 3.2, 3.25), (11.795, 3.04, 3.09), (11.824, 2.6, 2.7),
                (11.84, 2.68, 2.78), (11.858, 1.6, 1.95), (11.875, 1.1, 1.7), (11.892, 1.85, 2.3),
                (11.906, 1.5, 2.0), (11.924, 1.4, 1.95), (11.94, 0.9, 1.75), (11.974, 0.9, 1.75),
                (11.992, 0.55, 1.55), (12.0, 0.55, 1.55)]

lwp_marks_t = [9.992, 9.992]
lwp_marks_v = [1.254, 0.8]

lwp_gray = [(9.467, 9.5), (9.55, 9.568), (9.617, 9.633), (9.65, 9.667), (9.901, 9.95), (10.05, 10.068),
            (10.115, 10.183), (10.2, 10.249), (10.267, 10.283), (10.3, 10.317), (10.381, 10.4), (10.435, 10.451),
            (10.5, 10.516), (10.551, 10.568), (10.584, 10.733), (10.835, 10.85), (10.884, 10.899),
            (10.916, 10.932), (11.866, 11.915), (11.932, 12.0)]
lwp_yellow = [(9.95, 9.983), (10.0, 10.033), (10.068, 10.115), (10.317, 10.381)]
lwp_cyan = [(11.284, 11.383), (11.4, 11.533), (11.6, 11.816)]

# ---------------- panel 5: DQ flag, minute index after 09 UTC ----------------
flag_minutes = {
    0: [*range(0, 28), 30, 31, 32, 34, 35, 36, 38, *range(40, 54), 59, 62, 71, 75, 77, 84, 85, 87, 88, 89,
        91, 92, 94, *range(104, 110), 111, 112, 114, *range(116, 137), 143, 152, 153, 154, 155, 169, 170, 171, 175],
    3: [78],
    4: [28, 29, 33, 37, 39, 54, 55, 56, 63, 67, 68, 69, 70, 72, 73, 74, 76, 83, 86, 90, 93, *range(95, 104),
        110, 113, 115, 172, 173, 174, *range(176, 181)],
    5: [57, 58, 60, 61, 64, 65, 66, 79, 80, 81, 82],
    6: [138, 139],
    9: [138],
    10: [*range(137, 141), *range(144, 151), *range(156, 167)],
    11: [*range(137, 143), *range(144, 152), *range(156, 169)],
}

# ---------------- styling ----------------
sns.set_theme(style="white")
plt.rcParams['font.family'] = ['DejaVu Sans']

AX_BLUE = '#0072BD'
DARK = '#262626'
C_2C = 'blue'
C_3C = 'lightblue'
C_PHY = 'darkorange'
C_ADI = 'purple'
LW_THIN = 2.5
LW_PHY = 7
LW_ADI = 3


def pairs(data):
    a = np.array(data, dtype=float)
    return a[:, 0], a[:, 1]


def spans(ax, ranges, color):
    for a, b in ranges:
        ax.axvspan(a, b, color=color, alpha=0.5, lw=0, zorder=5)


def style(ax, ylim, yticks, ylabel, label_x):
    ax.set_xlim(9, 12)
    ax.set_ylim(*ylim)
    ax.set_xticks([9, 9.5, 10, 10.5, 11, 11.5, 12])
    ax.set_yticks(yticks)
    fmt = FuncFormatter(lambda v, p: f'{round(v, 3):g}')
    ax.xaxis.set_major_formatter(fmt)
    ax.yaxis.set_major_formatter(fmt)
    ax.tick_params(axis='x', which='both', bottom=True, top=False, direction='in', length=19, width=1.5,
                   color=DARK, labelcolor=DARK, labelsize=28, pad=24)
    ax.tick_params(axis='y', which='both', left=True, right=False, direction='in', length=20, width=1.5,
                   color=AX_BLUE, labelcolor=AX_BLUE, labelsize=28, pad=15)
    for s in ['left', 'right']:
        ax.spines[s].set_color(AX_BLUE)
        ax.spines[s].set_linewidth(1.5)
    ax.spines['top'].set_visible(False)
    ax.spines['bottom'].set_color(DARK)
    ax.spines['bottom'].set_linewidth(1.5)
    ax.set_xlabel('UTC hours on 20240515', fontsize=34, color=DARK, labelpad=22)
    ax.set_ylabel(ylabel, fontsize=34, color=AX_BLUE)
    ax.yaxis.set_label_coords(label_x, 0.5)


def legend(ax, items, x0, ytop, linespacing=None):
    handles = [Line2D([], [], color=c, lw=w) for c, w, _ in items]
    labels = [l for _, _, l in items]
    leg = ax.legend(handles, labels, loc='upper left', bbox_to_anchor=(x0, ytop), frameon=False, fontsize=28,
                    handlelength=6.0, handletextpad=0.6, labelspacing=0.56, borderpad=0, borderaxespad=0)
    if linespacing:
        for t in leg.get_texts():
            t.set_linespacing(linespacing)
    leg.set_zorder(20)


def line(ax, data, color, lw, z):
    t, v = pairs(data)
    if np.isnan(v).any():
        ax.plot(t, v, color=color, lw=lw, zorder=z)
    else:
        sns.lineplot(x=t, y=v, ax=ax, color=color, lw=lw, zorder=z, estimator=None, sort=False, legend=False)


fig = plt.figure(figsize=(38.25, 60), dpi=100)
bottoms = [0.7995, 0.612, 0.4247, 0.2368, 0.0496]
axes = [fig.add_axes([0.0978, b, 0.6876, 0.1512]) for b in bottoms]

# panel 1
ax = axes[0]
line(ax, bt23_3c, C_3C, LW_THIN, 2)
line(ax, bt23_2c, C_2C, LW_THIN, 3)
line(ax, bt23_phy, C_PHY, LW_PHY, 4)
spans(ax, wet_window, 'tan')
style(ax, (22.8, 101.6), [30, 40, 50, 60, 70, 80, 90, 100], 'Zenith BT 23 GHz, K', -0.049)
legend(ax, [(C_2C, LW_THIN, 'MWR 2C (tan = wet window)'), (C_3C, LW_THIN, 'MWR 3C'),
            (C_PHY, LW_PHY, 'Phy-Iter')], 0.0964, 0.912)

# panel 2
ax = axes[1]
line(ax, bt31_2c, C_2C, LW_THIN, 2)
line(ax, bt31_3c, C_3C, LW_THIN, 3)
line(ax, bt31_phy, C_PHY, LW_PHY, 4)
style(ax, (12.2, 115.8), [20, 30, 40, 50, 60, 70, 80, 90, 100, 110], 'Zenith BT 31 GHz, K', -0.049)
legend(ax, [(C_2C, LW_THIN, 'MWR2C'), (C_3C, LW_THIN, 'MWR 3C'), (C_PHY, LW_PHY, 'Phy-Iter')], 0.2955, 0.912)

# panel 3
ax = axes[2]
t, v = pairs(pwv_phy)
in_window = np.zeros(len(t), dtype=bool)
for a, b in pwv_tan + pwv_brown:
    in_window |= (t >= a) & (t <= b)
unc = np.where(in_window, pwv_unc_window, pwv_unc_quiet)
ax.fill_between(t, v - unc, v + unc, color=C_PHY, alpha=0.2, lw=0, zorder=1)
line(ax, pwv_3c, C_3C, LW_THIN, 2)
line(ax, pwv_2c, C_2C, LW_THIN, 3)
line(ax, pwv_phy, C_PHY, 6.5, 4)
spans(ax, pwv_tan, 'tan')
spans(ax, pwv_brown, 'brown')
style(ax, (1.286, 2.228), [1.3, 1.4, 1.5, 1.6, 1.7, 1.8, 1.9, 2.0, 2.1, 2.2], 'Precip. Water Vapor, mm', -0.0425)
legend(ax, [(C_2C, LW_THIN, 'MWR 2C PWV'), (C_3C, LW_THIN, 'MWR 3C PWV'),
            (C_PHY, 6.5, 'Phy-Iter PWV\n(tan = MWR 2C only)\n(brown = MWR 3C only)')], 0.3635, 0.894, 1.55)

# panel 4
ax = axes[3]
bt, blo, bhi = np.array(lwp_adi_band).T
ax.fill_between(bt, blo, bhi, color=C_ADI, alpha=0.2, lw=0, zorder=1)
bt, blo, bhi = np.array(lwp_phy_band).T
ax.fill_between(bt, blo, bhi, color=C_PHY, alpha=0.2, lw=0, zorder=1)
line(ax, lwp_2c, C_2C, LW_THIN, 2)
line(ax, lwp_3c, C_3C, LW_THIN, 2)
line(ax, lwp_phy, C_PHY, 6, 3)
line(ax, lwp_adi, C_ADI, LW_ADI, 4)
ax.plot(lwp_marks_t[0], lwp_marks_v[0], 'x', color=C_ADI, ms=13, mew=4, zorder=4)
ax.plot(lwp_marks_t[1], lwp_marks_v[1], 'x', color=C_PHY, ms=13, mew=4, zorder=4)
spans(ax, lwp_gray, '#cccccc')
spans(ax, lwp_yellow, 'yellow')
spans(ax, lwp_cyan, 'cyan')
style(ax, (-0.106, 3.78), [0, 0.5, 1, 1.5, 2, 2.5, 3, 3.5], r'log10 Liquid Water Path, log10(g/m$^2$)', -0.0425)
legend(ax, [(C_2C, LW_THIN, 'MWR 2C LWP'), (C_3C, LW_THIN, 'MWR 3C LWP'), (C_PHY, 6, 'Phy-Iter LWP'),
            (C_ADI, LW_ADI, 'Adiabatic LWP')], 0.7327, 0.283)

# panel 5
ax = axes[4]
rows = []
for flag, mins in flag_minutes.items():
    for m in mins:
        rows.append({'t': 9 + (m + 0.5) / 60, 'flag': flag})
flags = pd.DataFrame(rows)
sns.scatterplot(data=flags, x='t', y='flag', ax=ax, color=C_PHY, s=42, linewidth=0, zorder=3, legend=False)
style(ax, (-0.5, 11.5), [0, 2, 4, 6, 8, 10], 'MWR Phy Iter DQ Flag', -0.040)

fig.savefig('out.png', dpi=100, facecolor='white')
